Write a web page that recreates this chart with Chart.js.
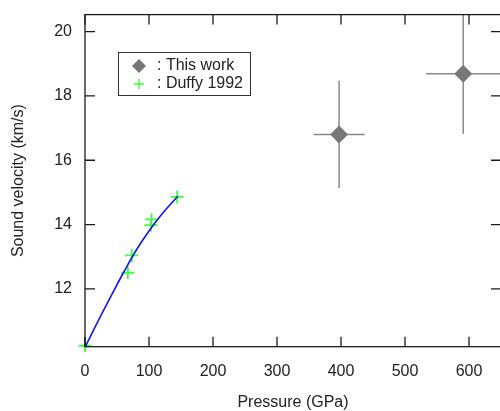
<!DOCTYPE html>
<html>
<head>
<meta charset="utf-8">
<script src="https://cdn.jsdelivr.net/npm/chart.js@4/dist/chart.umd.min.js"></script>
<style>
html, body { margin: 0; padding: 0; background: #fff; overflow: hidden; }
</style>
</head>
<body>
<canvas id="chart" width="510" height="411"></canvas>
<script>
const xTicks = [0, 100, 200, 300, 400, 500, 600];
const yTicks = [12, 14, 16, 18, 20];

// this work: diamonds with error bars
const workPressure = [397, 591];
const workVelocity = [16.8, 18.69];
const workPressureErr = [40, 58];
const workVelocityErr = [1.67, 1.87];

// Duffy 1992 crosses
const duffyPressure = [0, 67, 73, 103, 104, 144];
const duffyVelocity = [10.23, 12.5, 13.04, 13.98, 14.16, 14.86];

// blue fit curve
const fitPressure = [0, 20, 40, 60, 80, 100, 120, 145];
const fitVelocity = [10.18, 10.98, 11.75, 12.5, 13.2, 13.8, 14.32, 14.88];

const fontFamily = '"Liberation Sans", Arial, sans-serif';
const textColor = '#222';

function pts(xs, ys) {
	return xs.map((x, i) => ({x: x, y: ys[i]}));
}

const errorBars = {
	id: 'errorBars',
	beforeDatasetsDraw(chart) {
		const ctx = chart.ctx;
		const xs = chart.scales.x;
		const ys = chart.scales.y;
		const area = chart.chartArea;
		ctx.save();
		ctx.beginPath();
		ctx.rect(area.left, area.top, area.right - area.left, area.bottom - area.top);
		ctx.clip();
		ctx.strokeStyle = '#8a8a8a';
		ctx.lineWidth = 1.5;
		for (let i = 0; i < workPressure.length; i++) {
			const cx = xs.getPixelForValue(workPressure[i]);
			const cy = ys.getPixelForValue(workVelocity[i]);
			ctx.beginPath();
			ctx.moveTo(xs.getPixelForValue(workPressure[i] - workPressureErr[i]), cy);
			ctx.lineTo(xs.getPixelForValue(workPressure[i] + workPressureErr[i]), cy);
			ctx.moveTo(cx, ys.getPixelForValue(workVelocity[i] - workVelocityErr[i]));
			ctx.lineTo(cx, ys.getPixelForValue(workVelocity[i] + workVelocityErr[i]));
			ctx.stroke();
		}
		ctx.restore();
	}
};

const frame = {
	id: 'frame',
	afterDraw(chart) {
		const ctx = chart.ctx;
		const a = chart.chartArea;
		const xs = chart.scales.x;
		const ys = chart.scales.y;
		const tl = 10;
		ctx.save();
		ctx.strokeStyle = '#1a1a1a';
		ctx.lineWidth = 1.3;
		ctx.strokeRect(a.left, a.top, a.right - a.left, a.bottom - a.top);
		ctx.beginPath();
		xTicks.forEach(v => {
			const px = xs.getPixelForValue(v);
			ctx.moveTo(px, a.bottom);
			ctx.lineTo(px, a.bottom - tl);
			ctx.moveTo(px, a.top);
			ctx.lineTo(px, a.top + tl);
		});
		yTicks.forEach(v => {
			const py = ys.getPixelForValue(v);
			ctx.moveTo(a.left, py);
			ctx.lineTo(a.left + tl, py);
			ctx.moveTo(a.right, py);
			ctx.lineTo(a.right - tl, py);
		});
		ctx.stroke();

		// legend box
		ctx.lineWidth = 1;
		ctx.strokeStyle = '#333';
		ctx.strokeRect(118.5, 52.5, 132, 43);
		ctx.fillStyle = '#787878';
		ctx.beginPath();
		ctx.moveTo(139, 59);
		ctx.lineTo(146, 66);
		ctx.lineTo(139, 73);
		ctx.lineTo(132, 66);
		ctx.closePath();
		ctx.fill();
		ctx.strokeStyle = '#40ff40';
		ctx.lineWidth = 1.5;
		ctx.beginPath();
		ctx.moveTo(134, 84);
		ctx.lineTo(144, 84);
		ctx.moveTo(139, 79);
		ctx.lineTo(139, 89);
		ctx.stroke();
		ctx.fillStyle = textColor;
		ctx.font = '16px ' + fontFamily;
		ctx.textBaseline = 'middle';
		ctx.textAlign = 'left';
		ctx.fillText(': This work', 157, 66);
		ctx.fillText(': Duffy 1992', 157, 84);
		ctx.restore();
	}
};

const config = {
	type: 'scatter',
	data: {
		datasets: [
			{
				label: 'fit',
				data: pts(fitPressure, fitVelocity),
				showLine: true,
				borderColor: '#1414f0',
				borderWidth: 1.6,
				pointRadius: 0,
				tension: 0.4,
				fill: false,
				order: 0
			},
			{
				label: 'Duffy 1992',
				data: pts(duffyPressure, duffyVelocity),
				pointStyle: 'cross',
				pointRadius: 6.5,
				borderColor: '#40ff40',
				borderWidth: 1.8,
				clip: false,
				order: 1
			},
			{
				label: 'This work',
				data: pts(workPressure, workVelocity),
				pointStyle: 'rectRot',
				pointRadius: 9,
				backgroundColor: '#787878',
				borderWidth: 0,
				order: 2
			}
		]
	},
	options: {
		responsive: false,
		animation: false,
		devicePixelRatio: 1,
		layout: {padding: {left: 0, top: 12, right: 7, bottom: 0}},
		plugins: {
			legend: {display: false},
			tooltip: {enabled: false}
		},
		scales: {
			x: {
				type: 'linear',
				position: 'bottom',
				min: 0,
				max: 650,
				afterBuildTicks: s => { s.ticks = xTicks.map(v => ({value: v})); },
				afterFit: s => { s.height = 64.3; },
				grid: {display: false},
				border: {display: false},
				ticks: {
					padding: 7,
					autoSkip: false,
					maxRotation: 0,
					color: textColor,
					font: {family: fontFamily, size: 16}
				},
				title: {
					display: true,
					text: 'Pressure (GPa)',
					color: textColor,
					font: {family: fontFamily, size: 16, lineHeight: 1},
					padding: {top: 0, bottom: 0}
				}
			},
			y: {
				type: 'linear',
				min: 10.2,
				max: 20.53,
				afterBuildTicks: s => { s.ticks = yTicks.map(v => ({value: v})); },
				afterFit: s => { s.width = 85; },
				grid: {display: false},
				border: {display: false},
				ticks: {
					padding: 5,
					color: textColor,
					font: {family: fontFamily, size: 16}
				},
				title: {
					display: true,
					text: 'Sound velocity (km/s)',
					color: textColor,
					font: {family: fontFamily, size: 16, lineHeight: 1},
					padding: {top: 10.5, bottom: 0}
				}
			}
		}
	},
	plugins: [errorBars, frame]
};

const chart = new Chart(document.getElementById('chart'), config);
</script>
</body>
</html>
